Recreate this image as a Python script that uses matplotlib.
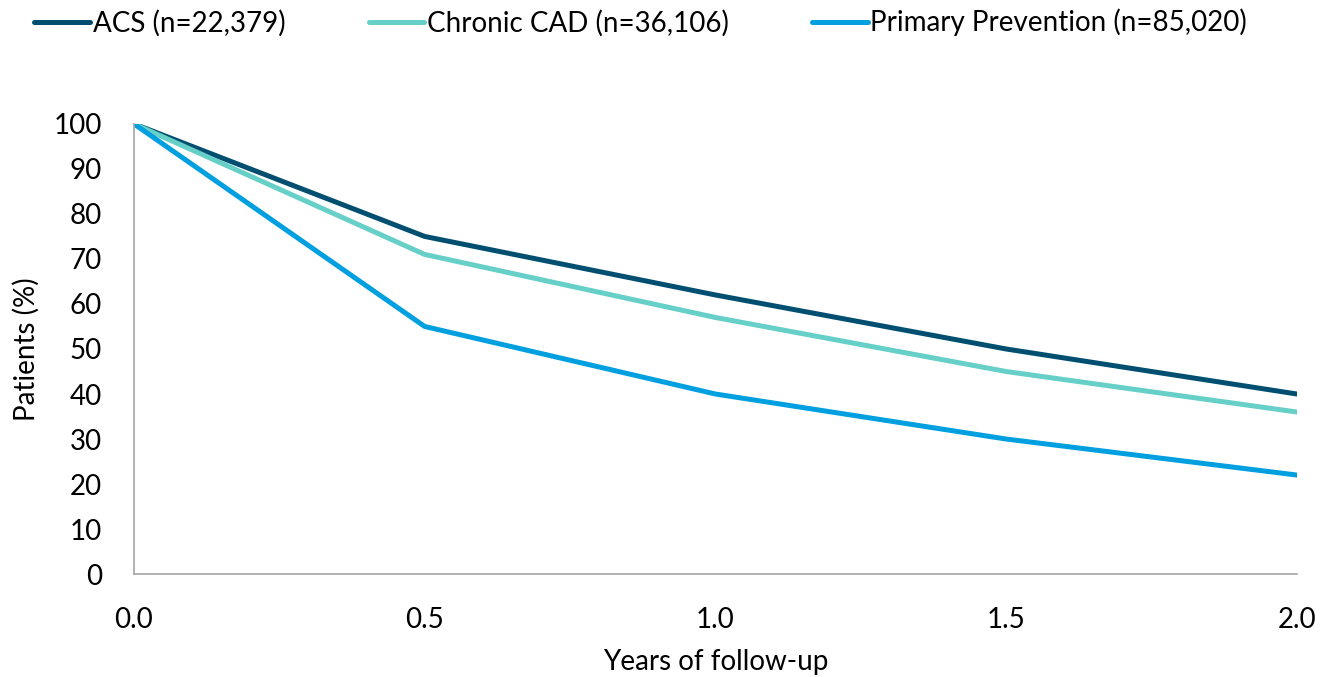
import matplotlib.pyplot as plt
import numpy as np

plt.rcParams['font.family'] = ['Lato', 'DejaVu Sans']

# follow-up time points (years) and share of patients still on therapy (%)
years = [0.0, 0.5, 1.0, 1.5, 2.0]
acs = [100, 75, 62, 50, 40]
chronic_cad = [100, 71, 57, 45, 36]
primary_prevention = [100, 55, 40, 30, 22]

series_labels = ["ACS (n=22,379)", "Chronic CAD (n=36,106)", "Primary Prevention (n=85,020)"]
series_colors = ["#004f71", "#66cfc8", "#009fe0"]

fig = plt.figure(figsize=(13.2, 6.77), dpi=100)
ax = fig.add_axes([0.1015, 0.152, 0.881, 0.665])

for values, label, color in zip([acs, chronic_cad, primary_prevention], series_labels, series_colors):
    ax.plot(years, values, color=color, linewidth=3.6, label=label,
            solid_capstyle="round", solid_joinstyle="round")

ax.set_xlim(0, 2.0)
ax.set_ylim(0, 100)
ax.set_xticks(years)
ax.set_xticklabels(["%.1f" % y for y in years])
ax.set_yticks(np.arange(0, 101, 10))
ax.tick_params(axis="both", length=0, labelsize=20, colors="black")
ax.tick_params(axis="x", pad=24)
ax.tick_params(axis="y", pad=23)

for side in ["top", "right"]:
    ax.spines[side].set_visible(False)
for side in ["left", "bottom"]:
    ax.spines[side].set_color("#a6a6a6")
    ax.spines[side].set_linewidth(1.2)

ax.set_xlabel("Years of follow-up", fontsize=20, labelpad=11)
ax.set_ylabel("Patients (%)", fontsize=20, labelpad=10)

fig.legend(loc="upper left", bbox_to_anchor=(0.007, 1.024), ncol=3, frameon=False,
           fontsize=20, handlelength=2.0, handletextpad=0.1, columnspacing=3.0)

fig.savefig("out.png", dpi=100)
